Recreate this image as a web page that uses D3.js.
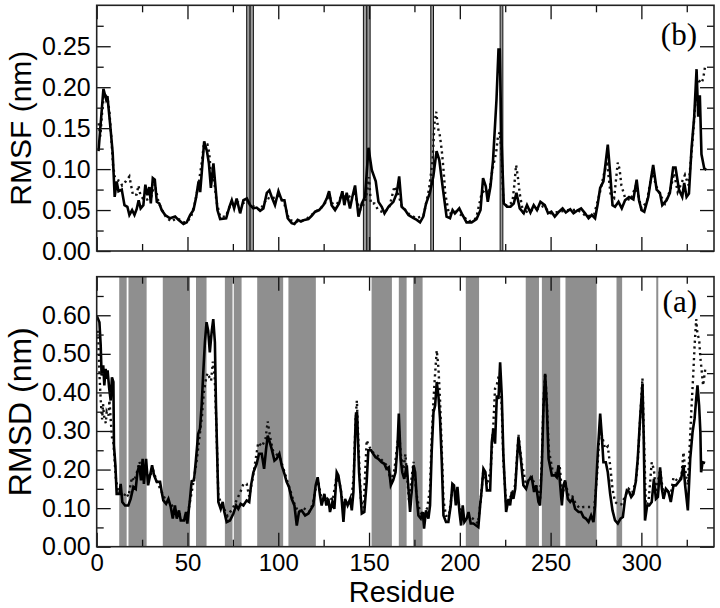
<!DOCTYPE html>
<html>
<head>
<meta charset="utf-8">
<script src="https://cdn.jsdelivr.net/npm/d3@7"></script>
<style>
  html, body { margin: 0; padding: 0; background: #fff; }
  svg { display: block; }
</style>
</head>
<body>
<div id="chart"></div>
<script>
// ---- data ----
const rmsfRes = [1,3.7,5.2,5.9,7.3,8.8,9.9,11,12,13.8,15.3,16.9,18,19.5,20.8,22,23.1,24.2,25.7,26.8,27.9,29,29.8,30.9,32,33.1,34.5,35.8,37.7,40.4,43.2,45,47.8,49.6,51.5,53.3,54.8,56.1,57,57.9,59.2,60.7,61.8,62.9,64.3,65.4,66.5,68,71.3,73.1,74.4,75.7,77.1,79,80.8,82.7,84.5,86.3,88.1,90,91.8,93.7,95.1,96.4,98.2,100.1,101.9,103.4,105.2,107.4,108.9,110.7,112.5,114.4,116.6,118.4,120.3,122.5,124.9,126.7,128,129.4,131.3,133.5,135.3,136.4,137.7,139.5,140.8,142.3,144.2,146,147.8,149.7,151.5,153.7,155.2,157,158.5,160.7,163.4,165.3,166.6,168,169.9,171.7,174.5,176.3,178.1,179.9,181.4,183.5,185.4,187.2,188.7,190.5,192.7,194.6,196,197.3,199.7,201.5,203.7,206.5,209.2,211.4,212.8,214.3,215.4,216.9,218.3,220.2,221.3,222,222.9,224.2,226,227.9,229.7,231.2,233,235.2,237,238.9,240.7,242.5,244.4,246.8,248.6,250.4,252.3,254.6,256.6,258.4,260.8,262.6,264.4,266.8,269,270.9,272.7,274.5,276,277.3,279.1,281.5,282.8,284.1,285.5,287.4,289.2,291,293.2,295.6,297.4,298.7,300.1,301.6,303.8,305.2,306.5,308.4,310.2,311.5,313.9,315.7,317.5,318.8,320.7,322.5,323.6,324.9,326.2,327.6,329.1,330.4,331.3,332.2,333.1,334.6,335.8];
const rmsfA = [0.122,0.198,0.185,0.189,0.157,0.12,0.066,0.085,0.073,0.075,0.056,0.054,0.044,0.05,0.044,0.051,0.062,0.052,0.056,0.081,0.068,0.078,0.058,0.089,0.087,0.06,0.058,0.05,0.044,0.04,0.042,0.038,0.033,0.035,0.044,0.05,0.066,0.085,0.072,0.097,0.134,0.122,0.107,0.077,0.107,0.079,0.05,0.039,0.04,0.054,0.062,0.052,0.064,0.046,0.062,0.064,0.056,0.052,0.053,0.049,0.052,0.071,0.074,0.066,0.056,0.073,0.062,0.062,0.04,0.034,0.033,0.038,0.036,0.038,0.039,0.043,0.048,0.05,0.056,0.064,0.073,0.056,0.05,0.058,0.073,0.056,0.071,0.052,0.066,0.08,0.042,0.058,0.066,0.126,0.099,0.085,0.06,0.054,0.046,0.054,0.06,0.071,0.091,0.054,0.05,0.044,0.04,0.038,0.035,0.042,0.058,0.071,0.091,0.122,0.111,0.079,0.042,0.04,0.05,0.046,0.052,0.044,0.035,0.035,0.039,0.05,0.089,0.079,0.06,0.079,0.111,0.185,0.246,0.246,0.14,0.058,0.054,0.054,0.058,0.071,0.052,0.046,0.056,0.047,0.056,0.05,0.06,0.056,0.046,0.048,0.042,0.048,0.052,0.047,0.051,0.046,0.049,0.052,0.046,0.04,0.044,0.04,0.058,0.077,0.085,0.13,0.095,0.056,0.054,0.06,0.052,0.062,0.066,0.063,0.087,0.062,0.05,0.048,0.066,0.087,0.105,0.075,0.071,0.056,0.062,0.071,0.102,0.102,0.075,0.066,0.083,0.066,0.07,0.124,0.164,0.222,0.164,0.19,0.118,0.101,0.099];

const rmsfResB = [1,2,3,4,5,6,7,8,9,10,11,13,14,16,18,20,22,23,24,26,28,30,32,34,36,38,40,41,44,46,48,50,52,54,56,58,59,61,62,63,64,66,68,71,74,77,80,83,86,90,94,96,100,103,106,110,115,120,125,128,131,135,138,142,145,148,150,151,153,155,158,161,164,166,168,172,176,180,183,185,186,187,188,189,190,191,192,194,198,202,205,209,212,214,216,218,220,221,222,223,224,226,229,230,231,232,233,235,238,242,246,250,255,260,265,270,274,277,280,281,283,285,287,288,289,291,294,297,300,303,305,306,308,310,313,316,318,320,324,326,328,329,330,331,333,334,335,336];
const rmsfB = [0.156,0.14,0.17,0.192,0.19,0.186,0.17,0.14,0.105,0.09,0.087,0.085,0.08,0.085,0.091,0.068,0.069,0.08,0.069,0.062,0.063,0.066,0.082,0.06,0.05,0.042,0.038,0.036,0.04,0.038,0.035,0.036,0.042,0.058,0.08,0.11,0.13,0.13,0.12,0.09,0.1,0.06,0.042,0.042,0.058,0.06,0.058,0.06,0.055,0.05,0.065,0.063,0.068,0.06,0.038,0.036,0.038,0.047,0.055,0.068,0.052,0.068,0.065,0.07,0.05,0.06,0.09,0.058,0.058,0.05,0.047,0.052,0.079,0.07,0.055,0.045,0.04,0.043,0.075,0.11,0.155,0.17,0.15,0.141,0.124,0.1,0.07,0.045,0.048,0.042,0.036,0.04,0.07,0.075,0.07,0.1,0.12,0.14,0.145,0.12,0.06,0.055,0.06,0.08,0.105,0.09,0.07,0.045,0.05,0.05,0.055,0.046,0.048,0.05,0.05,0.042,0.045,0.07,0.1,0.11,0.07,0.065,0.108,0.1,0.08,0.065,0.062,0.08,0.052,0.06,0.085,0.098,0.08,0.07,0.058,0.075,0.095,0.072,0.093,0.08,0.13,0.158,0.19,0.21,0.205,0.21,0.224,0.222];

const rmsdRes = [0,1.5,2.2,2.7,3.6,4.2,4.9,5.5,6,6.8,7.7,8.4,9.2,9.5,10.3,11,12.5,13.2,14.1,15.6,17.4,18.7,20.2,21.5,22.4,23.5,24.4,25.3,26,27.2,28.3,29.4,30.5,31.6,33.1,34.9,35.8,36.7,38.2,39.5,40.8,41.9,43.1,44.1,45.3,46.3,48.1,49.2,49.9,51.4,52.3,53.6,54.7,55.9,56.9,57.8,58.7,59.6,60.5,61.4,62.3,63.3,64.2,65.1,65.7,67,68.3,69.4,70.3,71.6,73.4,75.3,76.8,78,79.3,80.8,82.6,84,85,86.3,88.1,89.4,90.9,92.2,93.3,94.2,95.3,96.4,97.9,99.1,100.6,101.9,103.4,104.6,105.9,107.4,108.9,110.2,111.4,112.9,114.8,116.6,118.1,119.3,120.6,121.7,123,123.9,125.4,126.5,127.6,128.5,129.8,130.9,132.2,133.1,134.6,135.9,136.8,138.2,139.6,140.5,141.4,142.7,143.4,144.5,146,147.4,148.7,149.6,151.1,152.3,153.6,155.1,156.9,158.4,159.6,160.9,162,163.3,164.6,165.7,166.4,167.4,168.3,169.4,170.8,171.7,172.6,173.5,174.5,175.4,176.3,177.2,178.5,179.6,180.3,181.4,182.7,183.6,184.5,185.5,186.4,187.3,188.2,189.1,190,191,192.4,193.7,195,195.9,196.8,197.8,198.7,199.8,200.7,201.6,202.5,203.8,204.8,206,207.5,209,210.2,211.2,212.1,213,214.1,214.9,216.7,217.6,218.5,219.4,220.4,221.3,222.2,223.1,224,225.5,226.8,227.7,228.6,229.5,230.5,231.4,232.3,233.6,235,236.5,237.8,239.6,240.9,242,243.3,244.2,245.2,246.1,247,247.9,248.9,250.7,252.5,253.4,254.4,255.3,256.2,257.1,258,259.5,260.8,262.1,263.5,265.4,266.8,268.1,269.4,270.9,272.3,273.6,274.5,276,277.3,278.2,279.1,280.4,281.5,282.8,284.1,285.5,287,288.5,289.8,291,292,293.3,294.4,295.6,296.9,298,299.3,300.6,301.3,302,303.2,304.3,305.7,306.9,308,309.1,310.3,311.3,312.2,313.5,314.9,316.2,317.7,319,320.5,321.9,323.2,324.1,325.6,326.9,328.2,329.3,330.2,330.9,331.8,332.5,332.9,333.7,335.1];
const rmsdA = [0.599,0.582,0.522,0.444,0.47,0.418,0.461,0.435,0.457,0.414,0.379,0.439,0.427,0.263,0.211,0.137,0.137,0.163,0.116,0.107,0.107,0.124,0.155,0.15,0.193,0.211,0.172,0.228,0.163,0.228,0.159,0.185,0.211,0.185,0.168,0.168,0.142,0.12,0.111,0.124,0.103,0.073,0.107,0.073,0.094,0.068,0.068,0.09,0.06,0.124,0.17,0.172,0.228,0.293,0.306,0.366,0.452,0.53,0.582,0.56,0.504,0.556,0.59,0.53,0.366,0.116,0.098,0.116,0.09,0.064,0.068,0.086,0.107,0.098,0.111,0.107,0.12,0.116,0.159,0.193,0.215,0.241,0.241,0.202,0.253,0.288,0.271,0.253,0.223,0.228,0.241,0.211,0.189,0.168,0.155,0.124,0.107,0.055,0.09,0.094,0.081,0.086,0.098,0.107,0.159,0.18,0.133,0.107,0.137,0.107,0.124,0.09,0.116,0.098,0.193,0.185,0.142,0.064,0.124,0.107,0.124,0.094,0.142,0.34,0.349,0.193,0.086,0.09,0.168,0.25,0.25,0.241,0.232,0.228,0.219,0.215,0.202,0.206,0.159,0.172,0.193,0.262,0.345,0.228,0.193,0.176,0.211,0.15,0.09,0.142,0.211,0.193,0.124,0.081,0.073,0.09,0.047,0.094,0.073,0.107,0.245,0.349,0.366,0.427,0.392,0.332,0.228,0.081,0.064,0.064,0.107,0.163,0.159,0.107,0.155,0.09,0.055,0.107,0.064,0.073,0.09,0.06,0.06,0.055,0.051,0.107,0.15,0.202,0.193,0.146,0.146,0.271,0.306,0.267,0.392,0.383,0.478,0.392,0.237,0.09,0.124,0.107,0.142,0.124,0.15,0.219,0.284,0.228,0.159,0.15,0.172,0.18,0.142,0.159,0.116,0.107,0.211,0.366,0.448,0.366,0.228,0.185,0.185,0.18,0.211,0.159,0.107,0.159,0.172,0.124,0.116,0.124,0.098,0.09,0.09,0.077,0.073,0.064,0.081,0.064,0.107,0.245,0.345,0.288,0.219,0.219,0.193,0.137,0.094,0.068,0.06,0.073,0.077,0.124,0.146,0.142,0.129,0.137,0.168,0.228,0.332,0.423,0.28,0.068,0.107,0.107,0.116,0.176,0.124,0.129,0.206,0.15,0.124,0.15,0.142,0.116,0.159,0.159,0.168,0.176,0.211,0.159,0.094,0.228,0.297,0.332,0.383,0.418,0.366,0.297,0.193,0.219,0.217];

const rmsdResB = [0.5,1,1.5,2,2.5,3,3.5,4,5,5.5,6.5,7,8,8.5,9.2,9.8,10.5,11.5,13,15,16,17.5,19.4,20.5,22,23.5,25,27,29,31,33,36,38,41,44,47,50,51.5,53,55,56,57,58,59,60,61,62,63,64,65,66,67,69,72,75,77,79,80.8,82.6,84,86,88,89,91,93,94.2,95.3,97,99,101,103,105,107,109,111,114,117,119,121,122,124,126,128,130,132,134,136,138,140,141.5,142.7,143.3,144.3,145.5,147,148.7,150,152,155,158,160,162,164,165.7,166.5,167.5,169,170,172,174.5,176,178,180,182,183.6,184.5,185.5,186.4,187.3,188.2,189.1,190,191,192.4,194,196,198,200,202,205,208,210,211.5,213,215,217,218.5,219.4,220.4,221.3,222.2,223.1,224,225.5,228,230.5,232.3,234,236.5,239,242,244.2,245.2,246.1,247,247.9,249,251,253,255,256.5,258,260,262,264,266,268,270,272.3,274,275.5,277,278.2,280,281.5,282.8,284.1,285.5,287,289,291,293,295,297,298,299.3,300.6,301.3,302.5,304,305.7,306.9,308,310.3,312,314,316,317.7,320,322,323.2,324.1,325.6,326.5,327.5,328.5,329.3,330.2,330.9,331.8,332.5,333.3,334,335.2];
const rmsdB = [0.56,0.52,0.45,0.4,0.36,0.33,0.37,0.34,0.32,0.35,0.34,0.38,0.31,0.28,0.27,0.23,0.18,0.15,0.14,0.13,0.14,0.13,0.18,0.17,0.19,0.22,0.2,0.2,0.18,0.2,0.17,0.14,0.12,0.11,0.09,0.08,0.08,0.12,0.16,0.22,0.26,0.3,0.34,0.4,0.43,0.45,0.44,0.43,0.48,0.44,0.3,0.13,0.11,0.08,0.1,0.12,0.14,0.163,0.163,0.13,0.18,0.24,0.27,0.26,0.28,0.325,0.29,0.25,0.24,0.23,0.2,0.17,0.14,0.11,0.09,0.1,0.09,0.11,0.16,0.17,0.12,0.12,0.13,0.12,0.18,0.16,0.1,0.12,0.11,0.18,0.34,0.379,0.25,0.12,0.1,0.276,0.26,0.245,0.235,0.22,0.21,0.17,0.2,0.27,0.3,0.24,0.2,0.24,0.12,0.22,0.14,0.09,0.08,0.1,0.15,0.28,0.38,0.45,0.509,0.465,0.38,0.26,0.12,0.08,0.08,0.15,0.14,0.1,0.08,0.08,0.07,0.06,0.12,0.2,0.16,0.2,0.32,0.41,0.42,0.44,0.45,0.36,0.22,0.11,0.13,0.16,0.29,0.22,0.16,0.18,0.16,0.12,0.23,0.38,0.45,0.38,0.25,0.2,0.19,0.21,0.13,0.17,0.13,0.13,0.11,0.1,0.103,0.103,0.103,0.1,0.18,0.3,0.29,0.254,0.26,0.211,0.15,0.116,0.11,0.11,0.13,0.15,0.14,0.17,0.22,0.33,0.437,0.3,0.1,0.12,0.219,0.2,0.14,0.2,0.14,0.15,0.13,0.18,0.17,0.18,0.245,0.2,0.16,0.25,0.35,0.44,0.52,0.59,0.55,0.539,0.49,0.452,0.418,0.461];

// residue ranges marked in each panel
const rmsfMarkStart = [82.6, 84.5, 146.9, 148.8, 184, 222.2];
const rmsfMarkEnd = [84.5, 86.3, 148.8, 150.6, 185.5, 223.7];
const rmsdBandStart = [12.4, 17.5, 36.4, 54.7, 70.6, 75.5, 88.4, 105.6, 151.4, 166.4, 174.3, 203.3, 236.3, 245.2, 258.2, 286.3, 308.2];
const rmsdBandEnd = [16.5, 27.5, 51.4, 60.5, 74.8, 79.8, 102.7, 120.7, 162.6, 170.7, 179.5, 210.6, 243.6, 255.3, 275.4, 289.4, 309.3];

const xMajor = [0, 50, 100, 150, 200, 250, 300];
const xMinor = [25, 75, 125, 175, 225, 275, 325];
const rmsfMajor = [0, 0.05, 0.10, 0.15, 0.20, 0.25];
const rmsfMinor = [0.025, 0.075, 0.125, 0.175, 0.225, 0.275];
const rmsdMajor = [0, 0.1, 0.2, 0.3, 0.4, 0.5, 0.6];
const rmsdMinor = [0.05, 0.15, 0.25, 0.35, 0.45, 0.55, 0.65];

// ---- drawing ----
const width = 720, height = 608;
const left = 96.7, right = 714;
const sans = 'Liberation Sans, Arial, Helvetica, sans-serif';
const serif = 'Liberation Serif, Times New Roman, serif';

const svg = d3.select('#chart')
  .append('svg')
    .attr('width', width)
    .attr('height', height)
    .attr('viewBox', `0 0 ${width} ${height}`);

const x = d3.scaleLinear()
  .domain([0, 340])
  .range([left, right]);

const zip = (a, b) => a.map((v, i) => [v, b[i]]);

function panel(opts) {
  const y = d3.scaleLinear()
    .domain([0, opts.ymax])
    .range([opts.bottom, opts.top]);
  const g = svg.append('g');
  const h = opts.bottom - opts.top;

  const clipId = `clip-${opts.name}`;
  g.append('clipPath').attr('id', clipId)
    .append('rect')
      .attr('x', left).attr('y', opts.top)
      .attr('width', right - left).attr('height', h);

  const body = g.append('g').attr('clip-path', `url(#${clipId})`);

  if (opts.bands) {
    body.selectAll('.band')
      .data(zip(opts.bands[0], opts.bands[1]))
    .enter().append('rect')
      .attr('class', 'band')
      .attr('x', d => x(d[0]))
      .attr('width', d => x(d[1]) - x(d[0]))
      .attr('y', opts.top)
      .attr('height', h)
      .attr('fill', '#8f8f8f');
  }
  if (opts.marks) {
    body.selectAll('.mark')
      .data(zip(opts.marks[0], opts.marks[1]))
    .enter().append('rect')
      .attr('class', 'mark')
      .attr('x', d => x(d[0]))
      .attr('width', d => x(d[1]) - x(d[0]))
      .attr('y', opts.top)
      .attr('height', h)
      .attr('fill', '#9a9a9a')
      .attr('stroke', '#111')
      .attr('stroke-width', 1);
  }

  const line = d3.line()
    .x(d => x(d[0]))
    .y(d => y(d[1]));

  body.append('path')
    .datum(zip(opts.resB, opts.valB))
    .attr('d', line)
    .attr('fill', 'none')
    .attr('stroke', '#111')
    .attr('stroke-width', 2.4)
    .attr('stroke-dasharray', '2.2 3.6');

  body.append('path')
    .datum(zip(opts.resA, opts.valA))
    .attr('d', line)
    .attr('fill', 'none')
    .attr('stroke', '#000')
    .attr('stroke-width', 2.6);

  // inward ticks on all four sides
  const axes = [
    [d3.axisBottom(x), `translate(0,${opts.bottom})`, xMajor, xMinor, opts.xLabels],
    [d3.axisTop(x), `translate(0,${opts.top})`, xMajor, xMinor, false],
    [d3.axisLeft(y), `translate(${left},0)`, opts.yMajor, opts.yMinor, true],
    [d3.axisRight(y), `translate(${right},0)`, opts.yMajor, opts.yMinor, false]
  ];
  axes.forEach(([axis, tr, major, minor, labels], i) => {
    const isY = i >= 2;
    g.append('g')
      .attr('transform', tr)
      .call(axis.tickValues(minor).tickSize(-7).tickFormat(''))
      .call(s => s.select('.domain').remove());
    const fmt = isY ? d3.format('.2f') : d3.format('d');
    g.append('g')
      .attr('transform', tr)
      .call(axis.tickValues(major).tickSize(-14)
        .tickPadding(isY ? 6 : 7)
        .tickFormat(labels ? fmt : ''))
      .call(s => s.select('.domain').remove())
      .call(s => s.selectAll('text')
        .attr('font-family', sans)
        .attr('font-size', isY ? 25 : 24)
        .attr('fill', '#000'));
  });
  g.selectAll('.tick line').attr('stroke', '#111').attr('stroke-width', 1.3);

  g.append('rect')
    .attr('x', left).attr('y', opts.top)
    .attr('width', right - left).attr('height', h)
    .attr('fill', 'none')
    .attr('stroke', '#222')
    .attr('stroke-width', 1.6);

  g.append('text')
    .attr('transform', `translate(${opts.titleX},${(opts.top + opts.bottom) / 2}) rotate(-90)`)
    .attr('text-anchor', 'middle')
    .attr('font-family', sans)
    .attr('font-size', opts.titleSize)
    .text(opts.title);

  g.append('text')
    .attr('x', 697)
    .attr('y', opts.tagY)
    .attr('text-anchor', 'end')
    .attr('font-family', serif)
    .attr('font-size', 31)
    .text(opts.tag);
}

panel({
  name: 'rmsf', top: 5.3, bottom: 251, ymax: 0.3,
  resA: rmsfRes, valA: rmsfA, resB: rmsfResB, valB: rmsfB,
  marks: [rmsfMarkStart, rmsfMarkEnd],
  yMajor: rmsfMajor, yMinor: rmsfMinor, xLabels: false,
  title: 'RMSF (nm)', titleSize: 30, titleX: 31, tag: '(b)', tagY: 45
});

panel({
  name: 'rmsd', top: 276.7, bottom: 546.7, ymax: 0.7,
  resA: rmsdRes, valA: rmsdA, resB: rmsdResB, valB: rmsdB,
  bands: [rmsdBandStart, rmsdBandEnd],
  yMajor: rmsdMajor, yMinor: rmsdMinor, xLabels: true,
  title: 'RMSD (nm)', titleSize: 32, titleX: 31, tag: '(a)', tagY: 312
});

svg.append('text')
  .attr('x', 402)
  .attr('y', 601.5)
  .attr('text-anchor', 'middle')
  .attr('font-family', sans)
  .attr('font-size', 29)
  .text('Residue');
</script>
</body>
</html>
